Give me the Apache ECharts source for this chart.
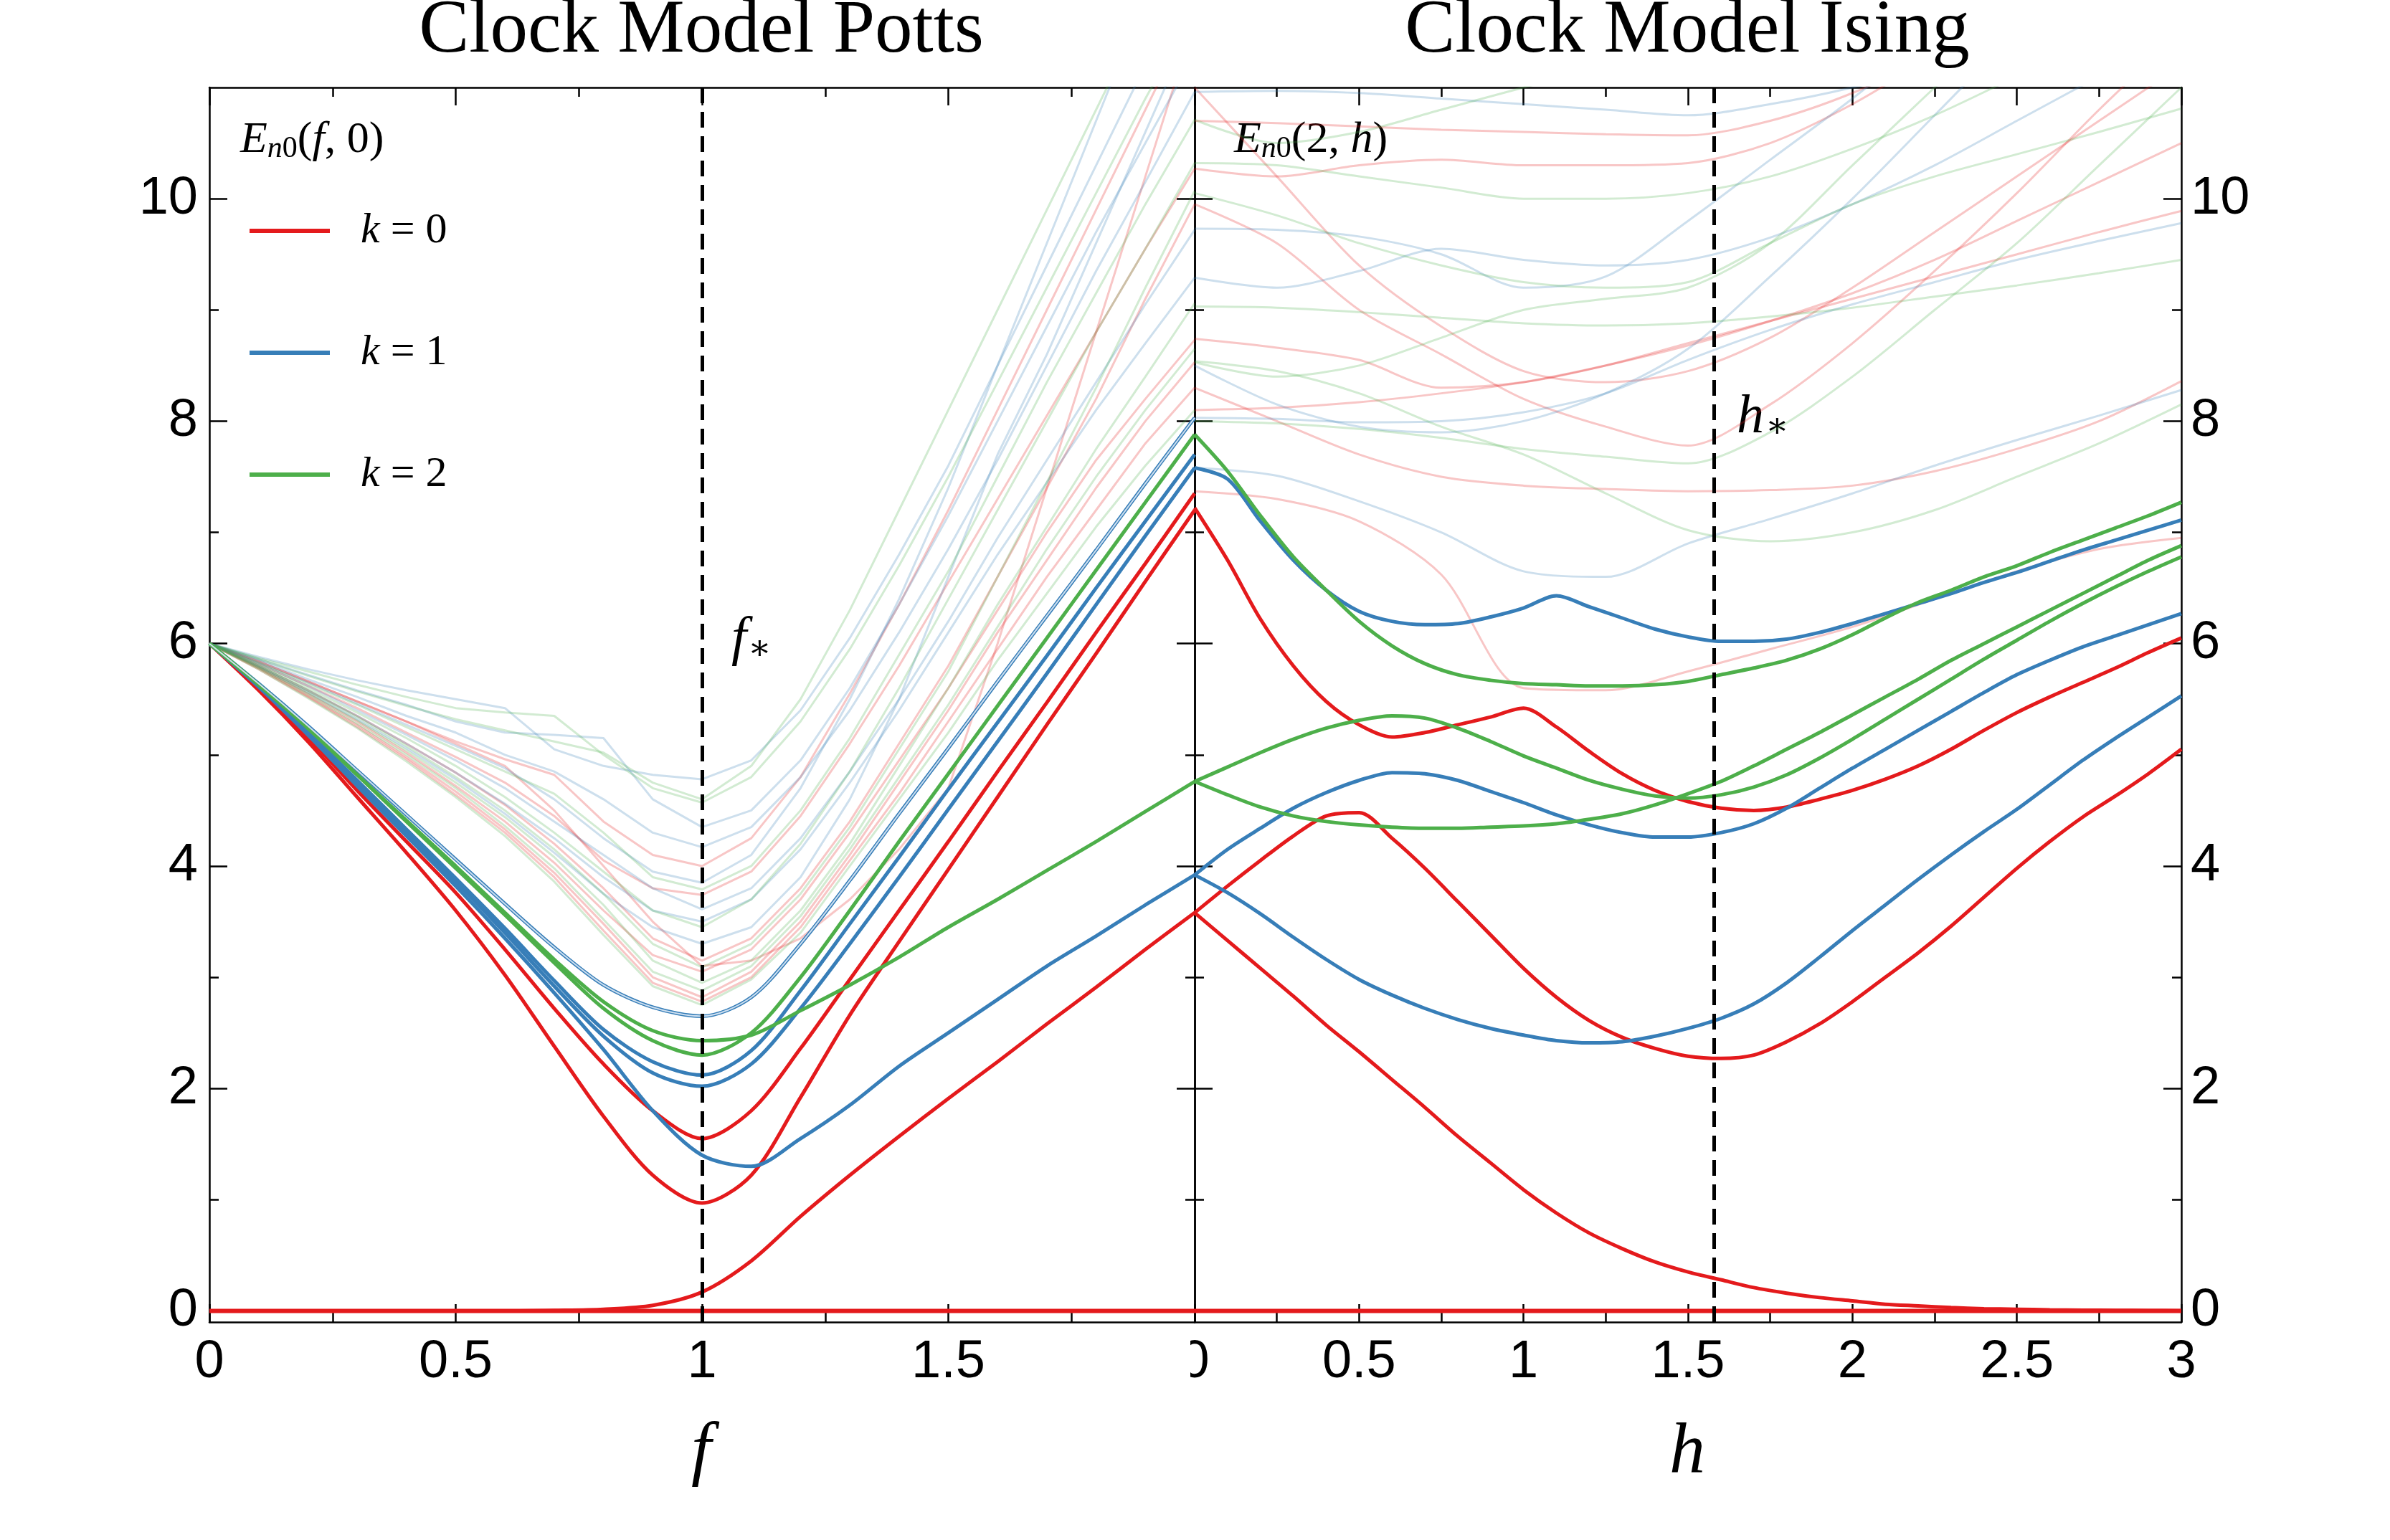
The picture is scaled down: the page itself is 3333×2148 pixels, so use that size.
<!DOCTYPE html>
<html>
<head>
<meta charset="utf-8">
<script src="https://cdn.jsdelivr.net/npm/echarts@6/dist/echarts.min.js"></script>
<style>
  html, body { margin: 0; padding: 0; background: #fff; }
  #chart { width: 3333px; height: 2148px; }
</style>
</head>
<body>
<div id="chart"></div>
<script>
// x samples
const fGrid = [0, 0.1, 0.2, 0.3, 0.4, 0.5, 0.6, 0.7, 0.8, 0.9, 1, 1.1, 1.2, 1.3, 1.4, 1.5, 1.6, 1.7, 1.8, 1.9, 2];
const hGrid = [0, 0.1, 0.2, 0.3, 0.4, 0.5, 0.6, 0.7, 0.8, 0.9, 1, 1.1, 1.2, 1.3, 1.4, 1.5, 1.6, 1.7, 1.8, 1.9, 2,
  2.1, 2.2, 2.3, 2.4, 2.5, 2.6, 2.7, 2.8, 2.9, 3];
const hCoarse = [0, 0.25, 0.5, 0.75, 1, 1.25, 1.5, 1.75, 2, 2.25, 2.5, 2.75, 3];

const fStar = 1;
const hStar = 1.577;
const yMajorTicks = [0, 2, 4, 6, 8, 10];
const yMinorTicks = [1, 3, 5, 7, 9];

// --- Potts panel, highlighted levels E(f, 0)
const pottsRed0 = [0, 0, 0, 0, 0, 0, 0, 0, 0, 0, 0, 0, 0, 0, 0, 0, 0, 0, 0, 0, 0];
const pottsRed1 = [0, 0, 0, 0, 0, 0, 0, 0.005, 0.015, 0.05, 0.17, 0.45, 0.85, 1.22, 1.57, 1.91, 2.24, 2.58, 2.91, 3.25, 3.58];
const pottsRed2 = [6, 5.58, 5.12, 4.62, 4.12, 3.6, 3.02, 2.38, 1.75, 1.22, 0.97, 1.22, 1.92, 2.66, 3.32, 3.97, 4.62, 5.27, 5.91, 6.56, 7.2];
const pottsRed3 = [6, 5.6, 5.16, 4.68, 4.22, 3.76, 3.25, 2.72, 2.22, 1.8, 1.55, 1.8, 2.36, 2.98, 3.6, 4.22, 4.85, 5.47, 6.1, 6.72, 7.35];
const pottsBlue1 = [6, 5.61, 5.18, 4.72, 4.27, 3.82, 3.35, 2.86, 2.35, 1.8, 1.4, 1.3, 1.55, 1.85, 2.2, 2.5, 2.8, 3.1, 3.37, 3.65, 3.92];
const pottsBlue2 = [6, 5.62, 5.2, 4.75, 4.3, 3.86, 3.4, 2.92, 2.47, 2.14, 2.02, 2.22, 2.72, 3.3, 3.9, 4.51, 5.12, 5.73, 6.35, 6.97, 7.58];
const pottsBlue3 = [6, 5.62, 5.21, 4.77, 4.33, 3.89, 3.44, 2.97, 2.53, 2.24, 2.12, 2.34, 2.88, 3.48, 4.08, 4.69, 5.29, 5.89, 6.5, 7.1, 7.7];
const pottsBluePair = [6, 5.64, 5.26, 4.86, 4.46, 4.06, 3.66, 3.27, 2.93, 2.73, 2.65, 2.82, 3.3, 3.87, 4.47, 5.06, 5.66, 6.25, 6.84, 7.44, 8.03];
const pottsGreen1 = [6, 5.63, 5.24, 4.82, 4.41, 4.0, 3.58, 3.16, 2.78, 2.52, 2.43, 2.48, 2.7, 2.93, 3.18, 3.45, 3.7, 3.96, 4.22, 4.49, 4.76];
const pottsGreen2 = [6, 5.63, 5.24, 4.82, 4.4, 3.98, 3.56, 3.13, 2.72, 2.43, 2.3, 2.5, 3.0, 3.6, 4.22, 4.83, 5.44, 6.05, 6.66, 7.27, 7.88];

// --- Potts panel, other levels (faded)
const pottsFadedRed = [
  [6, 5.84, 5.66, 5.48, 5.3, 5.12, 4.96, 4.82, 4.4, 4.1, 4.0, 4.25, 4.8, 5.55, 6.35, 7.2, 8.1, 9.0, 9.9, 10.8, 11.7],
  [6, 5.82, 5.62, 5.42, 5.2, 4.98, 4.75, 4.45, 4.05, 3.8, 3.74, 3.95, 4.45, 5.1, 5.8, 6.55, 7.3, 8.05, 8.8, 9.55, 10.27],
  [6, 5.84, 5.66, 5.48, 5.3, 5.1, 4.9, 4.5, 4.0, 3.5, 3.1, 3.15, 3.35, 3.7, 4.15, 4.7, 6.0, 7.4, 8.8, 10.2, 11.6],
  [6, 5.8, 5.58, 5.35, 5.1, 4.84, 4.55, 4.2, 3.8, 3.35, 3.15, 3.35, 3.8, 4.4, 5.1, 5.8, 6.6, 7.4, 8.2, 9.1, 9.95],
  [6, 5.79, 5.55, 5.3, 5.02, 4.72, 4.4, 4.03, 3.6, 3.2, 3.05, 3.25, 3.7, 4.3, 4.95, 5.6, 6.3, 7.0, 7.65, 8.2, 8.73],
  [6, 5.78, 5.53, 5.27, 4.98, 4.67, 4.33, 3.94, 3.48, 3.0, 2.82, 3.05, 3.5, 4.1, 4.75, 5.4, 6.1, 6.75, 7.4, 8.0, 8.53],
  [6, 5.77, 5.52, 5.25, 4.96, 4.64, 4.3, 3.9, 3.42, 2.95, 2.78, 3.0, 3.45, 4.05, 4.65, 5.3, 5.95, 6.6, 7.2, 7.8, 8.3]
];
const pottsFadedBlue = [
  [6, 5.88, 5.77, 5.67, 5.58, 5.5, 5.42, 5.05, 4.9, 4.82, 4.78, 4.95, 5.4, 6.05, 6.8, 7.6, 8.5, 9.4, 10.3, 11.2, 12.0],
  [6, 5.86, 5.72, 5.58, 5.45, 5.3, 5.2, 5.18, 5.15, 4.6, 4.35, 4.5, 4.95, 5.6, 6.35, 7.15, 8.0, 8.85, 9.7, 10.5, 11.3],
  [6, 5.85, 5.68, 5.52, 5.35, 5.2, 5.0, 4.85, 4.6, 4.3, 4.17, 4.35, 4.8, 5.4, 6.1, 6.85, 7.65, 8.5, 9.35, 10.15, 10.96],
  [6, 5.82, 5.62, 5.4, 5.18, 4.95, 4.7, 4.4, 4.1, 3.8, 3.61, 3.8, 4.25, 4.85, 5.5, 6.2, 6.95, 7.65, 8.35, 9.05, 9.72],
  [6, 5.79, 5.56, 5.32, 5.06, 4.78, 4.47, 4.12, 3.75, 3.45, 3.3, 3.45, 3.9, 4.6, 5.5, 6.6, 7.7, 8.6, 9.6, 10.6, 11.6],
  [6, 5.83, 5.65, 5.46, 5.27, 5.08, 4.88, 4.6, 4.25, 3.95, 3.85, 4.1, 4.7, 5.5, 6.4, 7.4, 8.5, 9.6, 10.7, 11.8, 12.9],
  [6, 5.8, 5.58, 5.35, 5.1, 4.84, 4.56, 4.25, 3.9, 3.6, 3.5, 3.7, 4.15, 4.75, 5.4, 6.1, 6.8, 7.45, 8.1, 8.7, 9.29]
];
const pottsFadedGreen = [
  [6, 5.87, 5.75, 5.63, 5.52, 5.42, 5.38, 5.35, 5.0, 4.7, 4.57, 4.8, 5.3, 5.95, 6.7, 7.5, 8.35, 9.2, 10.05, 10.9, 11.7],
  [6, 5.83, 5.64, 5.45, 5.25, 5.05, 4.85, 4.65, 4.3, 3.9, 3.79, 4.0, 4.5, 5.15, 5.9, 6.65, 7.5, 8.35, 9.15, 9.95, 10.71],
  [6, 5.81, 5.6, 5.38, 5.15, 4.9, 4.62, 4.3, 3.95, 3.6, 3.45, 3.7, 4.2, 4.85, 5.6, 6.4, 7.2, 8.0, 8.8, 9.55, 10.32],
  [6, 5.8, 5.58, 5.34, 5.08, 4.8, 4.5, 4.15, 3.75, 3.3, 3.09, 3.3, 3.75, 4.35, 5.05, 5.75, 6.6, 7.45, 8.3, 9.2, 10.07],
  [6, 5.79, 5.56, 5.31, 5.04, 4.75, 4.44, 4.08, 3.65, 3.15, 2.95, 3.15, 3.6, 4.2, 4.9, 5.6, 6.35, 7.05, 7.75, 8.4, 9.06],
  [6, 5.78, 5.54, 5.28, 5.0, 4.7, 4.36, 3.98, 3.52, 3.05, 2.88, 3.1, 3.55, 4.15, 4.8, 5.45, 6.15, 6.85, 7.5, 8.1, 8.65],
  [6, 5.77, 5.51, 5.24, 4.94, 4.62, 4.27, 3.86, 3.38, 2.92, 2.75, 2.98, 3.4, 4.0, 4.6, 5.2, 5.85, 6.45, 7.05, 7.6, 8.1],
  [6, 5.86, 5.71, 5.57, 5.44, 5.32, 5.22, 5.12, 5.02, 4.75, 4.6, 4.9, 5.5, 6.3, 7.2, 8.1, 9.0, 9.9, 10.8, 11.7, 12.6]
];

// --- Ising panel, highlighted levels E(2, h)
const isingRed0 = [0, 0, 0, 0, 0, 0, 0, 0, 0, 0, 0, 0, 0, 0, 0, 0, 0, 0, 0, 0, 0, 0, 0, 0, 0, 0, 0, 0, 0, 0, 0];
const isingRed1 = [3.58, 3.33, 3.08, 2.83, 2.57, 2.33, 2.08, 1.83, 1.57, 1.33, 1.09, 0.88, 0.7, 0.56, 0.44, 0.35,
  0.28, 0.21, 0.16, 0.12, 0.09, 0.06, 0.045, 0.03, 0.02, 0.015, 0.01, 0.007, 0.005, 0.003, 0.002];
const isingRed2 = [3.58, 3.82, 4.05, 4.27, 4.45, 4.48, 4.25, 3.98, 3.68, 3.38, 3.08, 2.82, 2.61, 2.46, 2.36, 2.29,
  2.27, 2.3, 2.42, 2.58, 2.78, 3.0, 3.22, 3.46, 3.72, 3.98, 4.22, 4.44, 4.63, 4.83, 5.05];
const isingRed3 = [7.22, 6.75, 6.22, 5.8, 5.48, 5.27, 5.16, 5.2, 5.27, 5.34, 5.42, 5.25, 5.03, 4.83, 4.68, 4.58,
  4.52, 4.5, 4.53, 4.6, 4.68, 4.78, 4.9, 5.05, 5.22, 5.38, 5.52, 5.65, 5.78, 5.92, 6.05];
const isingBlue1 = [3.92, 4.15, 4.34, 4.52, 4.66, 4.77, 4.84, 4.83, 4.77, 4.67, 4.57, 4.46, 4.37, 4.3, 4.26, 4.26,
  4.3, 4.38, 4.52, 4.7, 4.88, 5.05, 5.22, 5.39, 5.56, 5.72, 5.85, 5.97, 6.07, 6.17, 6.27];
const isingBlue2 = [3.92, 3.76, 3.57, 3.36, 3.16, 2.98, 2.84, 2.72, 2.62, 2.54, 2.48, 2.43, 2.41, 2.42, 2.47, 2.54,
  2.63, 2.76, 2.95, 3.18, 3.42, 3.65, 3.88, 4.1, 4.31, 4.51, 4.73, 4.95, 5.15, 5.34, 5.53];
const isingBlue3 = [7.58, 7.48, 7.1, 6.75, 6.48, 6.29, 6.2, 6.17, 6.18, 6.24, 6.32, 6.43, 6.33, 6.23, 6.13, 6.06,
  6.02, 6.02, 6.04, 6.1, 6.18, 6.27, 6.36, 6.45, 6.55, 6.64, 6.74, 6.84, 6.93, 7.02, 7.11];
const isingGreen1 = [7.88, 7.55, 7.15, 6.78, 6.48, 6.2, 5.98, 5.82, 5.72, 5.67, 5.64, 5.63, 5.62, 5.62, 5.63, 5.66,
  5.72, 5.78, 5.85, 5.95, 6.08, 6.23, 6.37, 6.48, 6.6, 6.7, 6.82, 6.93, 7.04, 7.15, 7.27];
const isingGreen2 = [4.76, 4.89, 5.02, 5.14, 5.24, 5.31, 5.35, 5.33, 5.24, 5.12, 4.99, 4.88, 4.77, 4.69, 4.63, 4.61,
  4.64, 4.71, 4.82, 4.97, 5.14, 5.32, 5.5, 5.68, 5.86, 6.03, 6.2, 6.36, 6.51, 6.65, 6.78];
const isingGreen3 = [4.76, 4.64, 4.53, 4.45, 4.4, 4.37, 4.35, 4.34, 4.34, 4.35, 4.36, 4.38, 4.42, 4.47, 4.55, 4.65,
  4.76, 4.9, 5.05, 5.2, 5.36, 5.52, 5.68, 5.85, 6.0, 6.15, 6.3, 6.45, 6.6, 6.75, 6.88];

// --- Ising panel, other levels (faded), sampled on hCoarse
const isingFadedRed = [
  [7.37, 7.3, 7.1, 6.62, 5.6, 5.58, 5.75, 5.95, 6.15, 6.4, 6.65, 6.85, 6.95],
  [8.3, 8.0, 7.7, 7.5, 7.42, 7.39, 7.37, 7.38, 7.42, 7.55, 7.75, 8.0, 8.36],
  [8.74, 8.66, 8.55, 8.3, 8.35, 8.5, 8.7, 8.9, 9.1, 9.3, 9.5, 9.7, 9.89],
  [9.95, 9.6, 9.0, 8.6, 8.2, 7.95, 7.78, 8.15, 8.7, 9.35, 10.05, 10.8, 11.5],
  [10.7, 10.68, 10.65, 10.62, 10.6, 10.58, 10.57, 10.7, 10.95, 11.3, 11.7, 12.1, 12.5],
  [10.27, 10.2, 10.3, 10.35, 10.3, 10.3, 10.32, 10.5, 10.85, 11.3, 11.8, 12.3, 12.8],
  [11.0, 10.2, 9.4, 8.85, 8.45, 8.35, 8.45, 8.75, 9.2, 9.7, 10.2, 10.7, 11.2],
  [8.1, 8.12, 8.17, 8.25, 8.35, 8.5, 8.68, 8.9, 9.15, 9.45, 9.8, 10.15, 10.5]
];
const isingFadedBlue = [
  [7.58, 7.51, 7.28, 7.0, 6.65, 6.6, 6.9, 7.12, 7.35, 7.6, 7.83, 8.05, 8.28],
  [9.73, 9.72, 9.66, 9.5, 9.2, 9.3, 9.8, 10.35, 10.9, 11.5, 12.1, 12.7, 13.3],
  [8.03, 8.02, 7.99, 8.0, 8.08, 8.25, 8.55, 8.82, 9.05, 9.25, 9.45, 9.62, 9.78],
  [8.5, 8.15, 7.95, 7.9, 8.0, 8.25, 8.65, 9.3, 10.0, 10.75, 11.5, 12.2, 12.9],
  [10.96, 10.97, 10.95, 10.9, 10.85, 10.8, 10.75, 10.85, 11.0, 11.2, 11.4, 11.6, 11.8],
  [9.29, 9.2, 9.35, 9.55, 9.45, 9.4, 9.45, 9.65, 9.95, 10.3, 10.7, 11.1, 11.5]
];
const isingFadedGreen = [
  [8.54, 8.45, 8.25, 7.95, 7.7, 7.35, 7.02, 6.92, 7.0, 7.2, 7.5, 7.8, 8.15],
  [9.03, 9.02, 8.98, 8.93, 8.88, 8.86, 8.88, 8.94, 9.02, 9.12, 9.22, 9.33, 9.45],
  [8.53, 8.4, 8.5, 8.75, 9.0, 9.1, 9.2, 9.6, 10.3, 11.0, 11.7, 12.4, 13.1],
  [10.05, 9.85, 9.6, 9.4, 9.25, 9.2, 9.25, 9.6, 9.95, 10.2, 10.4, 10.6, 10.81],
  [10.32, 10.3, 10.2, 10.1, 10.0, 10.0, 10.05, 10.2, 10.45, 10.75, 11.1, 11.45, 11.8],
  [8.0, 7.98, 7.93, 7.85, 7.75, 7.68, 7.62, 7.9, 8.4, 9.0, 9.6, 10.3, 11.0],
  [10.71, 10.5, 10.6, 10.8, 11.0, 11.2, 11.4, 11.6, 11.8, 12.0, 12.2, 12.4, 12.6]
];

const RED = '#e41a1c';
const BLUE = '#377eb8';
const GREEN = '#4daf4a';
const SERIF = '"Liberation Serif", "DejaVu Serif", serif';
const SANS = '"Liberation Sans Narrow", "Liberation Sans", Arial, sans-serif';

const pairs = (xs, ys) => xs.map((x, i) => [x, ys[i]]);

// panel 0 -> xAxis 0 / yAxis 0, panel 1 -> xAxis 2 / yAxis 4
function levelLine(name, xs, ys, color, panel, opts = {}) {
  return Object.assign({
    name,
    type: 'line',
    xAxisIndex: panel === 0 ? 0 : 2,
    yAxisIndex: panel === 0 ? 0 : 4,
    data: pairs(xs, ys),
    symbol: 'none',
    smooth: 0.3,
    lineStyle: { color, width: 5 },
    itemStyle: { color },
    z: 5,
    silent: true,
    animation: false
  }, opts);
}

function fadedLine(xs, ys, color, panel) {
  return levelLine('other', xs, ys, color, panel, {
    smooth: panel === 0 ? false : 0.3,
    lineStyle: { color, width: 3, opacity: 0.25 },
    z: 3
  });
}

function dashed(x) {
  return {
    silent: true,
    symbol: ['none', 'none'],
    label: { show: false },
    z: 10,
    animation: false,
    lineStyle: { color: '#000', width: 5, type: [22, 12] },
    data: [{ xAxis: x }]
  };
}

const series = [];
pottsFadedRed.forEach(ys => series.push(fadedLine(fGrid, ys, RED, 0)));
pottsFadedBlue.forEach(ys => series.push(fadedLine(fGrid, ys, BLUE, 0)));
pottsFadedGreen.forEach(ys => series.push(fadedLine(fGrid, ys, GREEN, 0)));
isingFadedRed.forEach(ys => series.push(fadedLine(hCoarse, ys, RED, 1)));
isingFadedBlue.forEach(ys => series.push(fadedLine(hCoarse, ys, BLUE, 1)));
isingFadedGreen.forEach(ys => series.push(fadedLine(hCoarse, ys, GREEN, 1)));

series.push(
  levelLine('k = 0', fGrid, pottsRed2, RED, 0),
  levelLine('k = 0', fGrid, pottsRed3, RED, 0),
  levelLine('k = 0', fGrid, pottsRed1, RED, 0),
  levelLine('k = 1', fGrid, pottsBlue1, BLUE, 0),
  levelLine('k = 1', fGrid, pottsBlue2, BLUE, 0),
  levelLine('k = 1', fGrid, pottsBlue3, BLUE, 0),
  levelLine('pair', fGrid, pottsBluePair, BLUE, 0, { lineStyle: { color: BLUE, width: 5 } }),
  levelLine('pair inner', fGrid, pottsBluePair, '#cddff0', 0, { lineStyle: { color: '#cddff0', width: 2 }, z: 6 }),
  levelLine('k = 2', fGrid, pottsGreen1, GREEN, 0),
  levelLine('k = 2', fGrid, pottsGreen2, GREEN, 0),
  levelLine('k = 0', fGrid, pottsRed0, RED, 0, { lineStyle: { color: RED, width: 6 }, markLine: dashed(fStar) }),

  levelLine('k = 0', hGrid, isingRed1, RED, 1),
  levelLine('k = 0', hGrid, isingRed2, RED, 1),
  levelLine('k = 0', hGrid, isingRed3, RED, 1),
  levelLine('k = 1', hGrid, isingBlue1, BLUE, 1),
  levelLine('k = 1', hGrid, isingBlue2, BLUE, 1),
  levelLine('k = 1', hGrid, isingBlue3, BLUE, 1),
  levelLine('k = 2', hGrid, isingGreen1, GREEN, 1),
  levelLine('k = 2', hGrid, isingGreen2, GREEN, 1),
  levelLine('k = 2', hGrid, isingGreen3, GREEN, 1),
  levelLine('k = 0', hGrid, isingRed0, RED, 1, { lineStyle: { color: RED, width: 6 }, markLine: dashed(hStar) })
);

const AXIS_W = 2.5;
function xAx(grid, max, position, labels) {
  return {
    type: 'value', gridIndex: grid, position, min: 0, max, interval: 0.5,
    axisLine: { show: true, onZero: false, lineStyle: { color: '#000', width: AXIS_W } },
    axisTick: { show: true, inside: true, length: 25, lineStyle: { color: '#000', width: AXIS_W } },
    minorTick: { show: true, splitNumber: 2, length: 13, lineStyle: { color: '#000', width: AXIS_W } },
    axisLabel: labels ? Object.assign({
      show: true, color: '#000', fontFamily: SANS, fontSize: 74, margin: 20
    }, labels) : { show: false },
    splitLine: { show: false },
    minorSplitLine: { show: false }
  };
}
function yAx(grid, position, ticks, len, labels, showLine) {
  return {
    type: 'value', gridIndex: grid, position, min: -0.1, max: 11,
    axisLine: { show: showLine, onZero: false, lineStyle: { color: '#000', width: AXIS_W } },
    axisTick: { show: true, inside: true, length: len, customValues: ticks, lineStyle: { color: '#000', width: AXIS_W } },
    axisLabel: labels ? Object.assign({
      show: true, customValues: ticks, color: '#000', fontFamily: SANS, fontSize: 74
    }, labels) : { show: false },
    splitLine: { show: false }
  };
}

const titleFont = '105px ' + SERIF;
const mathRich = {
  e: { fontFamily: SERIF, fontStyle: 'italic', fontSize: 62, color: '#000' },
  p: { fontFamily: SERIF, fontSize: 62, color: '#000' },
  si: { fontFamily: SERIF, fontStyle: 'italic', fontSize: 42, color: '#000', padding: [24, 0, 0, 0] },
  s: { fontFamily: SERIF, fontSize: 42, color: '#000', padding: [24, 0, 0, 0] }
};
const starRich = {
  e: { fontFamily: SERIF, fontStyle: 'italic', fontSize: 76, color: '#000' },
  s: { fontFamily: '"DejaVu Serif", serif', fontSize: 48, color: '#000', padding: [28, 0, 0, 2] }
};

const option = {
  backgroundColor: '#fff',
  animation: false,
  grid: [
    { left: 292, top: 122, width: 1374, height: 1722 },
    { left: 1666, top: 122, width: 1376, height: 1722 }
  ],
  xAxis: [
    xAx(0, 2, 'bottom', { showMaxLabel: false }),
    xAx(0, 2, 'top', null),
    xAx(1, 3, 'bottom', {}),
    xAx(1, 3, 'top', null)
  ],
  yAxis: [
    yAx(0, 'left', yMajorTicks, 25, { margin: 16 }, true),
    yAx(0, 'left', yMinorTicks, 13, null, false),
    yAx(0, 'right', yMajorTicks, 25, null, true),
    yAx(0, 'right', yMinorTicks, 13, null, false),
    yAx(1, 'left', yMajorTicks, 25, null, true),
    yAx(1, 'left', yMinorTicks, 13, null, false),
    yAx(1, 'right', yMajorTicks, 25, { margin: 13 }, true),
    yAx(1, 'right', yMinorTicks, 13, null, false)
  ],
  legend: {
    data: ['k = 0', 'k = 1', 'k = 2'],
    orient: 'vertical',
    left: 348,
    top: 292,
    padding: 0,
    icon: 'rect',
    itemWidth: 112,
    itemHeight: 6,
    itemGap: 110,
    selectedMode: false,
    formatter: name => '{k|k}{n|' + name.slice(1) + '}',
    textStyle: {
      color: '#000', fontFamily: SERIF, fontSize: 60,
      rich: {
        k: { fontFamily: SERIF, fontStyle: 'italic', fontSize: 60, color: '#000', padding: [0, 0, 0, 38] },
        n: { fontFamily: SERIF, fontSize: 60, color: '#000' }
      }
    }
  },
  graphic: [
    { type: 'text', x: 978, y: 44, style: { text: 'Clock Model Potts', font: titleFont, fill: '#000', align: 'center', verticalAlign: 'middle' } },
    { type: 'text', x: 2353, y: 44, style: { text: 'Clock Model Ising', font: titleFont, fill: '#000', align: 'center', verticalAlign: 'middle' } },
    { type: 'text', x: 978, y: 2027, style: { text: 'f', font: 'italic 100px ' + SERIF, fill: '#000', align: 'center', verticalAlign: 'middle' } },
    { type: 'text', x: 2353, y: 2027, style: { text: 'h', font: 'italic 100px ' + SERIF, fill: '#000', align: 'center', verticalAlign: 'middle' } },
    { type: 'text', x: 335, y: 196, style: { text: '{e|E}{si|n}{s|0}{p|(}{e|f}{p|, 0)}', rich: mathRich, align: 'left', verticalAlign: 'middle' } },
    { type: 'text', x: 1721, y: 196, style: { text: '{e|E}{si|n}{s|0}{p|(2, }{e|h}{p|)}', rich: mathRich, align: 'left', verticalAlign: 'middle' } },
    { type: 'text', x: 1020, y: 893, style: { text: '{e|f}{s|∗}', rich: starRich, align: 'left', verticalAlign: 'middle' } },
    { type: 'text', x: 2422, y: 583, style: { text: '{e|h}{s|∗}', rich: starRich, align: 'left', verticalAlign: 'middle' } },
    // the "0" of the right panel is half hidden behind the left panel in the original
    { type: 'rect', z: 100, shape: { x: 1618, y: 1858, width: 42, height: 84 }, style: { fill: '#fff' } }
  ],
  series
};

const chart = echarts.init(document.getElementById('chart'));
chart.setOption(option);
</script>
</body>
</html>
